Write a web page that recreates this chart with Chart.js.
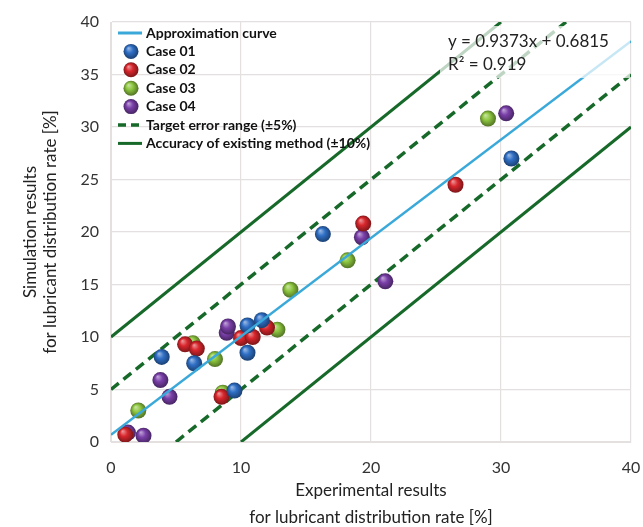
<!DOCTYPE html>
<html>
<head>
<meta charset="utf-8">
<script src="https://cdn.jsdelivr.net/npm/chart.js@4/dist/chart.umd.min.js"></script>
<style>
  html, body { margin: 0; padding: 0; background: #fff; }
  #wrap { width: 643px; height: 527px; }
</style>
</head>
<body>
<div id="wrap"><canvas id="chart" width="643" height="527"></canvas></div>
<script>
// measured values (experimental x, simulated y) in %
const case01 = [
  { x: 3.9, y: 8.1 }, { x: 6.4, y: 7.5 }, { x: 9.5, y: 4.9 }, { x: 10.5, y: 11.1 },
  { x: 10.5, y: 8.5 }, { x: 11.6, y: 11.6 }, { x: 16.3, y: 19.8 }, { x: 30.8, y: 27.0 }
];
const case02 = [
  { x: 1.1, y: 0.7 }, { x: 5.7, y: 9.3 }, { x: 6.6, y: 8.9 }, { x: 8.5, y: 4.3 },
  { x: 10.0, y: 9.9 }, { x: 10.9, y: 10.0 }, { x: 12.0, y: 10.9 }, { x: 19.4, y: 20.8 },
  { x: 26.5, y: 24.5 }
];
const case03 = [
  { x: 2.1, y: 3.0 }, { x: 6.3, y: 9.4 }, { x: 8.0, y: 7.9 }, { x: 8.6, y: 4.7 },
  { x: 12.8, y: 10.7 }, { x: 13.8, y: 14.5 }, { x: 18.2, y: 17.3 }, { x: 29.0, y: 30.8 }
];
const case04 = [
  { x: 1.3, y: 0.9 }, { x: 2.5, y: 0.6 }, { x: 3.8, y: 5.9 }, { x: 4.5, y: 4.3 },
  { x: 8.9, y: 10.4 }, { x: 9.0, y: 11.0 }, { x: 19.3, y: 19.5 }, { x: 21.1, y: 15.3 },
  { x: 30.4, y: 31.3 }
];
// reference lines (end points)
const fitLine = [{ x: 0, y: 0.6815 }, { x: 40, y: 38.17 }];
const plus5 = [{ x: 0, y: 5 }, { x: 35, y: 40 }];
const minus5 = [{ x: 5, y: 0 }, { x: 40, y: 35 }];
const plus10 = [{ x: 0, y: 10 }, { x: 30, y: 40 }];
const minus10 = [{ x: 10, y: 0 }, { x: 40, y: 30 }];

const xTicks = [0, 10, 20, 30, 40];
const yTicks = [0, 5, 10, 15, 20, 25, 30, 35, 40];
const equationText = ["y = 0.9373x + 0.6815", "R² = 0.919"];

const FONT = "Lato, 'Open Sans', sans-serif";
const darkGreen = "#17692a";
const fitBlue = "#3aa9d9";

function shade(hex, amt) {
  const n = parseInt(hex.slice(1), 16);
  let r = (n >> 16) & 255, g = (n >> 8) & 255, b = n & 255;
  const f = (c) => Math.max(0, Math.min(255, Math.round(amt > 0 ? c + (255 - c) * amt : c * (1 + amt))));
  return "rgb(" + f(r) + "," + f(g) + "," + f(b) + ")";
}

function sphere(c, x, y, r, base) {
  const g = c.createRadialGradient(x - r * 0.35, y - r * 0.45, 0, x, y, r * 1.05);
  g.addColorStop(0, shade(base, 0.55));
  g.addColorStop(0.45, base);
  g.addColorStop(1, shade(base, -0.45));
  return g;
}

function ballColor(base) {
  return function (ctx) {
    const chart = ctx.chart;
    if (!ctx.parsed || !chart.scales.x) return base;
    const x = chart.scales.x.getPixelForValue(ctx.parsed.x);
    const y = chart.scales.y.getPixelForValue(ctx.parsed.y);
    if (!Number.isFinite(x) || !Number.isFinite(y)) return base;
    return sphere(chart.ctx, x, y, 8, base);
  };
}

function caseSet(label, data, base) {
  return {
    type: "scatter",
    label: label,
    data: data,
    pointRadius: 8,
    pointHoverRadius: 8,
    borderWidth: 0,
    pointBorderWidth: 0,
    backgroundColor: ballColor(base),
    order: 2
  };
}

function lineSet(label, data, color, width, dash, order) {
  return {
    type: "line",
    label: label,
    data: data,
    borderColor: color,
    borderWidth: width,
    borderDash: dash,
    pointRadius: 0,
    fill: false,
    order: order
  };
}

// legend drawn inside the plot, like the original figure
const insideLegend = {
  id: "insideLegend",
  afterDatasetsDraw(chart) {
    const c = chart.ctx;
    // faded box behind the equation
    c.save();
    c.fillStyle = "rgba(255,255,255,0.72)";
    c.fillRect(440, 26, 190, 52);
    c.fillStyle = "#222";
    c.font = "17px " + FONT;
    c.textBaseline = "middle";
    c.fillText(equationText[0], 448, 42);
    c.fillText(equationText[1], 448, 65);

    const items = [
      { text: "Approximation curve", kind: "line", color: fitBlue, width: 3, dash: [] },
      { text: "Case 01", kind: "ball", color: "#2f6fc6" },
      { text: "Case 02", kind: "ball", color: "#d8262c" },
      { text: "Case 03", kind: "ball", color: "#8dc63f" },
      { text: "Case 04", kind: "ball", color: "#7a3fa9" },
      { text: "Target error range (\u00b15%)", kind: "line", color: darkGreen, width: 3.5, dash: [8, 5] },
      { text: "Accuracy of existing method (\u00b110%)", kind: "line", color: darkGreen, width: 3, dash: [] }
    ];
    c.font = "bold 14px " + FONT;
    items.forEach((it, i) => {
      const y = 33 + i * 18.4;
      if (it.kind === "ball") {
        c.fillStyle = sphere(c, 131, y, 7.5, it.color);
        c.beginPath();
        c.arc(131, y, 7.5, 0, Math.PI * 2);
        c.fill();
      } else {
        c.strokeStyle = it.color;
        c.lineWidth = it.width;
        c.setLineDash(it.dash);
        c.beginPath();
        c.moveTo(118, y);
        c.lineTo(142, y);
        c.stroke();
        c.setLineDash([]);
      }
      c.fillStyle = "#111";
      c.fillText(it.text, 146, y);
    });
    c.restore();
  }
};

new Chart(document.getElementById("chart"), {
  data: {
    datasets: [
      lineSet("Approximation curve", fitLine, fitBlue, 2.5, [], 0),
      caseSet("Case 01", case01, "#2f6fc6"),
      caseSet("Case 02", case02, "#d8262c"),
      caseSet("Case 03", case03, "#8dc63f"),
      caseSet("Case 04", case04, "#7a3fa9"),
      lineSet("Target error range (+5%)", plus5, darkGreen, 3.5, [10, 6], 3),
      lineSet("Target error range (-5%)", minus5, darkGreen, 3.5, [10, 6], 3),
      lineSet("Accuracy of existing method (+10%)", plus10, darkGreen, 3, [], 3),
      lineSet("Accuracy of existing method (-10%)", minus10, darkGreen, 3, [], 3)
    ]
  },
  options: {
    responsive: false,
    animation: false,
    layout: { padding: { top: 22, right: 12, left: 0, bottom: 0 } },
    plugins: {
      legend: { display: false },
      tooltip: { enabled: false }
    },
    scales: {
      x: {
        type: "linear",
        min: 0,
        max: 40,
        afterBuildTicks: (s) => { s.ticks = xTicks.map((v) => ({ value: v })); },
        afterFit: (s) => { s.height = 85; s.paddingRight = 0; s.paddingLeft = 0; },
        grid: { color: "#e4e0e0", lineWidth: 1.2, drawTicks: false },
        border: { color: "#e4e0e0" },
        ticks: { color: "#333", font: { family: FONT, size: 16 }, padding: 16 },
        title: {
          display: true,
          text: ["Experimental results", "for lubricant distribution rate [%]"],
          color: "#222",
          font: { family: FONT, size: 17, lineHeight: 1.6 },
          padding: { top: 0, bottom: -4 }
        }
      },
      y: {
        type: "linear",
        min: 0,
        max: 40,
        afterBuildTicks: (s) => { s.ticks = yTicks.map((v) => ({ value: v })); },
        afterFit: (s) => { s.width = 111; },
        grid: { color: "#e4e0e0", lineWidth: 1.2, drawTicks: false },
        border: { color: "#e4e0e0" },
        ticks: { color: "#333", font: { family: FONT, size: 16 }, padding: 12 },
        title: {
          display: true,
          text: ["Simulation results", "for lubricant distribution rate [%]"],
          color: "#222",
          font: { family: FONT, size: 17 },
          padding: { top: 20, bottom: 0 }
        }
      }
    }
  },
  plugins: [insideLegend]
});
</script>
</body>
</html>
